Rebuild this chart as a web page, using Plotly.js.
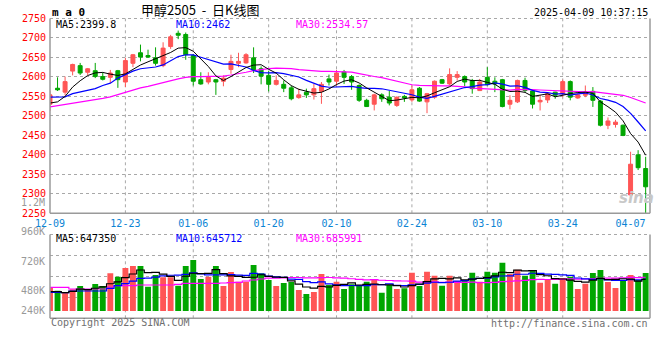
<!DOCTYPE html>
<html><head><meta charset="utf-8">
<script src="https://cdn.plot.ly/plotly-3.0.1.min.js"></script>
<style>html,body{margin:0;padding:0;background:#fff}#c{width:660px;height:360px}</style>
</head><body><div id="c"></div>
<script>
const dates = ['12-09','12-10','12-11','12-12','12-13','12-16','12-17','12-18','12-19','12-20',
'12-23','12-24','12-25','12-26','12-27','12-30','12-31','01-02','01-03','01-06',
'01-07','01-08','01-09','01-10','01-13','01-14','01-15','01-16','01-17','01-20',
'01-21','01-22','01-23','01-24','01-27','02-05','02-06','02-07','02-10','02-11',
'02-12','02-13','02-14','02-17','02-18','02-19','02-20','02-21','02-24','02-25',
'02-26','02-27','02-28','03-03','03-04','03-05','03-06','03-07','03-10','03-11',
'03-12','03-13','03-14','03-17','03-18','03-19','03-20','03-21','03-24','03-25',
'03-26','03-27','03-28','03-31','04-01','04-02','04-03','04-07','04-08','04-09'];
const openP = [2530,2571,2561,2615,2629,2612,2616,2601,2599,2616,
2587,2635,2662,2655,2649,2629,2678,2712,2709,2655,
2593,2587,2593,2589,2619,2635,2636,2649,2621,2604,
2581,2581,2572,2547,2561,2554,2563,2595,2589,2613,
2601,2578,2540,2530,2554,2548,2527,2550,2541,2571,
2536,2548,2593,2582,2599,2601,2591,2565,2599,2589,
2593,2530,2536,2591,2564,2536,2541,2561,2557,2588,
2546,2553,2563,2538,2476,2478,2476,2297,2400,2365];
const highP = [2565,2599,2601,2634,2636,2623,2636,2612,2618,2618,
2649,2659,2683,2670,2676,2689,2708,2719,2714,2659,
2612,2612,2595,2604,2657,2662,2661,2676,2627,2616,
2604,2591,2578,2570,2570,2582,2587,2606,2618,2618,
2605,2581,2544,2557,2558,2564,2550,2554,2578,2574,
2559,2591,2595,2622,2615,2604,2595,2595,2625,2599,
2595,2553,2593,2598,2567,2553,2558,2562,2593,2591,
2558,2578,2574,2541,2496,2490,2478,2408,2412,2395];
const lowP = [2513,2564,2553,2604,2605,2605,2597,2591,2584,2572,
2574,2625,2640,2649,2629,2625,2672,2697,2644,2578,
2580,2581,2554,2576,2608,2625,2634,2610,2581,2563,
2578,2561,2540,2544,2546,2542,2531,2578,2578,2582,
2567,2536,2523,2514,2536,2527,2523,2536,2536,2536,
2507,2544,2582,2578,2591,2576,2557,2564,2578,2561,
2522,2517,2533,2561,2519,2514,2533,2544,2548,2540,
2544,2548,2523,2473,2466,2470,2448,2292,2361,2248];
const closeP = [2554,2567,2588,2632,2610,2621,2601,2594,2610,2593,
2642,2657,2651,2651,2635,2674,2703,2707,2657,2589,
2582,2599,2587,2597,2640,2640,2657,2618,2602,2581,
2591,2571,2544,2554,2554,2570,2581,2587,2610,2599,
2587,2540,2524,2554,2544,2533,2548,2546,2567,2538,
2557,2589,2584,2606,2606,2587,2570,2587,2580,2582,
2524,2540,2591,2565,2530,2540,2557,2553,2588,2548,
2554,2561,2540,2476,2487,2484,2450,2376,2367,2318];
const volume = [483800,415700,374800,442900,511100,442900,551900,511100,770000,701800,
879000,919900,919900,497400,735900,688200,688200,517900,919900,1042500,
654100,701800,919900,511100,797200,599600,599600,940300,770000,633700,
511100,572400,592800,429300,347500,388400,756400,531500,599600,449700,
545100,531500,599600,633700,374800,531500,449700,463400,783600,511100,
804100,722300,517900,722300,613300,620100,783600,599600,804100,783600,
988000,756400,844900,722300,817700,579200,640500,558700,674600,701800,
449700,558700,776800,838100,592800,470200,620100,735900,633700,776800];
const ma5Head = [2533,2536,2550,2574];
const ma10Head = [2548,2548,2549,2557,2561,2565,2570,2578,2584];
const ma30Head = [2523,2526,2530,2533,2536,2538,2542,2545,2549,2555,2559,2567,2572,2576,2581,2585,2591,2595,2599,2601,2601,2601,2601,2602,2605,2608,2612,2616,2619];
const vma5Head = [395200,395200,374800,402000];
const vma10Head = [381600,381600,374800,408800,408800,408800,408800,408800,463400];
const vma30Head = [483800,483800,483800,449700,449700,449700,449700,449700,490600,517900,517900,517900,531500,531500,531500,531500,531500,545100,565600,565600,565600,565600,565600,572400,579200,586000,613300,633700,654100];
const dateTicks = ['12-09','12-23','01-06','01-20','02-10','02-24','03-10','03-24','04-07'];
const priceTicks = [2250,2300,2350,2400,2450,2500,2550,2600,2650,2700,2750];
const volLabels = ['1.2M','960K','720K','480K','240K'];
const maLabels = ['MA5:2399.8','MA10:2462','MA30:2534.57'];
const volMaLabels = ['MA5:647350','MA10:645712','MA30:685991'];

function movingAvg(vals, n, head) {
  return vals.map((v, i) => {
    if (i < n - 1) return head[i];
    let s = 0; for (let k = i - n + 1; k <= i; k++) s += vals[k];
    return s / n;
  });
}
const idx = dates.map((d, i) => i);
const RED = '#ff5555', GREEN = '#00a600';
const MONO = 'DejaVu Sans Mono, monospace';
const W = 660, H = 360;
const px = v => v / W, py = v => 1 - v / H;
const mainTop = 18.5, mainBot = 213.3, volTop = 234.5, volBot = 318.3;
const xL = 50, xR = 650, step = 7.54;
const xRange = [0, (xR - xL) / step];
const vPerPx = 20442;
const vRange = [-(volBot - 311) * vPerPx, (311 - volTop) * vPerPx];
const vGrid = [1, 2, 3].map(k => vRange[0] + k * (vRange[1] - vRange[0]) / 4);
const tickIdx = dateTicks.map(d => dates.indexOf(d));

const traces = [
  {type: 'candlestick', x: idx, open: openP, high: highP, low: lowP, close: closeP,
   xaxis: 'x', yaxis: 'y', whiskerwidth: 0, hoverinfo: 'skip',
   increasing: {line: {color: RED, width: 1}, fillcolor: RED},
   decreasing: {line: {color: GREEN, width: 1}, fillcolor: GREEN}},
  {type: 'scatter', mode: 'lines', x: idx, y: movingAvg(closeP, 30, ma30Head), xaxis: 'x', yaxis: 'y', line: {color: '#ff00ff', width: 1.2}, hoverinfo: 'skip'},
  {type: 'scatter', mode: 'lines', x: idx, y: movingAvg(closeP, 10, ma10Head), xaxis: 'x', yaxis: 'y', line: {color: '#0000ff', width: 1.2}, hoverinfo: 'skip'},
  {type: 'scatter', mode: 'lines', x: idx, y: movingAvg(closeP, 5, ma5Head), xaxis: 'x', yaxis: 'y', line: {color: '#000000', width: 1}, hoverinfo: 'skip'},
  {type: 'bar', x: idx, y: volume, xaxis: 'x2', yaxis: 'y2', width: 0.78,
   marker: {color: idx.map(i => closeP[i] >= openP[i] ? RED : GREEN), line: {width: 0}}, hoverinfo: 'skip'},
  {type: 'scatter', mode: 'lines', x: idx, y: movingAvg(volume, 30, vma30Head), xaxis: 'x2', yaxis: 'y2', line: {color: '#ff00ff', width: 1.2, shape: 'hvh'}, hoverinfo: 'skip'},
  {type: 'scatter', mode: 'lines', x: idx, y: movingAvg(volume, 10, vma10Head), xaxis: 'x2', yaxis: 'y2', line: {color: '#0000ff', width: 1.2, shape: 'hvh'}, hoverinfo: 'skip'},
  {type: 'scatter', mode: 'lines', x: idx, y: movingAvg(volume, 5, vma5Head), xaxis: 'x2', yaxis: 'y2', line: {color: '#000000', width: 1.2, shape: 'hvh'}, hoverinfo: 'skip'}
];

const shapes = [];
const GRID = '#a8a8a8', BORDER = '#9a9a9a';
tickIdx.slice(1, -1).forEach(i => {
  [[mainBot, mainTop], [volBot, volTop]].forEach(([b, t]) => {
    shapes.push({type: 'line', xref: 'x', yref: 'paper', x0: i, x1: i, y0: py(b), y1: py(t), line: {color: GRID, width: 1, dash: 'dot'}, layer: 'below'});
  });
});
[[mainBot, mainTop], [volBot, volTop]].forEach(([b, t]) => {
  shapes.push({type: 'line', xref: 'paper', yref: 'paper', x0: px(xL), x1: px(xR), y0: py(t), y1: py(t), line: {color: GRID, width: 1, dash: 'dot'}});
  shapes.push({type: 'line', xref: 'paper', yref: 'paper', x0: px(xL), x1: px(xL), y0: py(b), y1: py(t), line: {color: BORDER, width: 1.5}});
  shapes.push({type: 'line', xref: 'paper', yref: 'paper', x0: px(xR), x1: px(xR), y0: py(b), y1: py(t), line: {color: BORDER, width: 1.5}});
  shapes.push({type: 'line', xref: 'paper', yref: 'paper', x0: px(xL), x1: px(xR), y0: py(b), y1: py(b), line: {color: BORDER, width: 1.5}});
});

const ann = [];
function txt(text, x, y, color, size, xanchor, extra) {
  ann.push(Object.assign({text: text, xref: 'paper', yref: 'paper', x: px(x), y: py(y), xanchor: xanchor || 'left', yanchor: 'middle', showarrow: false,
    font: {family: MONO, size: size || 10, color: color}}, extra || {}));
}
txt('<b>m a 0</b>', 50, 12.5, '#000', 11);
txt('甲醇2505\u00a0\u00a0-\u00a0\u00a0日K线图', 200, 9, '#000', 13, 'center', {font: {family: 'Noto Sans CJK SC, sans-serif', size: 13, color: '#000'}});
txt('2025-04-09 10:37:15', 650, 12.5, '#000', 10, 'right');
const maColors = ['#000000', '#0000ff', '#ff00ff'];
const maX = [54, 174, 294];
maLabels.forEach((t, k) => txt(t, maX[k], 24.5, maColors[k], 10));
volMaLabels.forEach((t, k) => txt(t, maX[k], 238.5, maColors[k], 10));
const volLabelY = [202, 231.5, 261, 290.7, 310.7];
volLabels.forEach((t, k) => txt(t, 46.5, volLabelY[k], '#999999', 10, 'right'));
txt('Copyright 2025 SINA.COM', 49, 322.8, '#707070', 10);
txt('http://finance.sina.com.cn', 650, 323.3, '#707070', 10, 'right');
txt('<i><b>sina</b></i>', 636, 198, '#c8c8c8', 15, 'center', {font: {family: 'DejaVu Sans, sans-serif', size: 15, color: '#c8c8c8'}});

const layout = {
  width: W, height: H, margin: {l: 0, r: 0, t: 0, b: 0},
  paper_bgcolor: '#fff', plot_bgcolor: '#fff', showlegend: false, dragmode: false,
  xaxis: {domain: [px(xL), px(xR)], range: xRange, anchor: 'y', rangeslider: {visible: false},
    tickmode: 'array', tickvals: tickIdx, ticktext: dateTicks, showgrid: false, zeroline: false, showline: false,
    ticks: '', ticklabelstandoff: 3, tickfont: {family: MONO, size: 10, color: '#0b84d4'}},
  yaxis: {domain: [py(mainBot), py(mainTop)], range: [2250, 2750], anchor: 'x',
    tickmode: 'array', tickvals: priceTicks, ticktext: priceTicks.map(String),
    showgrid: true, gridcolor: GRID, griddash: 'dot', gridwidth: 1, zeroline: false, showline: false,
    ticks: '', ticklabelstandoff: 3, tickfont: {family: MONO, size: 10, color: '#ff0000'}},
  xaxis2: {domain: [px(xL), px(xR)], range: xRange, anchor: 'y2', matches: 'x',
    showticklabels: false, showgrid: false, zeroline: false, showline: false, ticks: ''},
  yaxis2: {domain: [py(volBot), py(volTop)], range: vRange, anchor: 'x2',
    tickmode: 'array', tickvals: vGrid, showticklabels: false,
    showgrid: true, gridcolor: GRID, griddash: 'dot', zeroline: false, showline: false, ticks: ''},
  bargap: 0.2, boxgap: 0.25,
  shapes: shapes, annotations: ann
};
Plotly.newPlot('c', traces, layout, {staticPlot: true, displayModeBar: false});
</script>
</body></html>
